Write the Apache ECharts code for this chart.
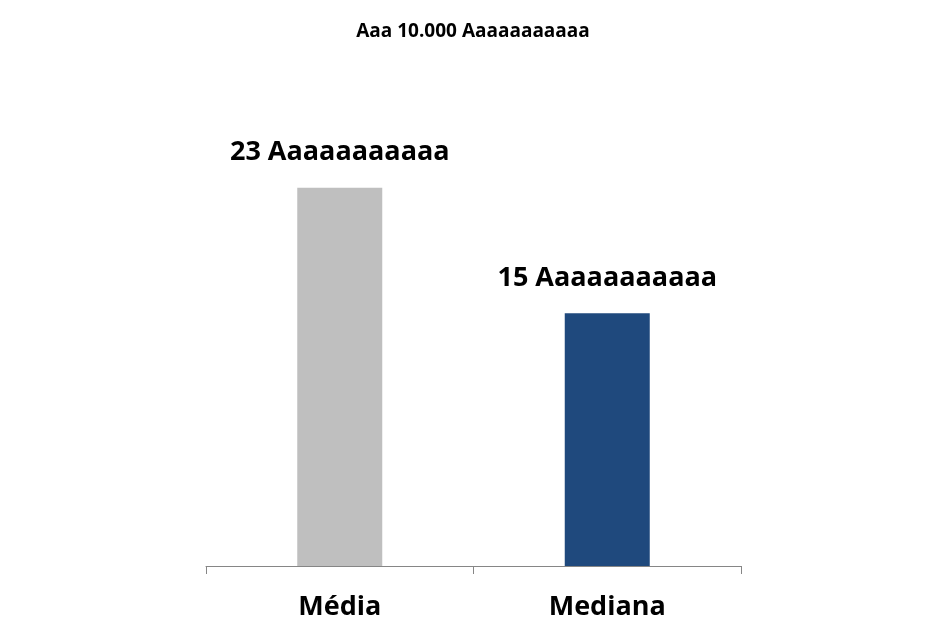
<!DOCTYPE html>
<html><head><meta charset="utf-8">
<script src="https://cdn.jsdelivr.net/npm/echarts@6/dist/echarts.min.js"></script>
<style>html,body{margin:0;padding:0;background:#fff}#c{width:946px;height:629px}</style>
</head><body><div id="c"></div>
<script>
var titleText = 'Aaa 10.000 Aaaaaaaaaaa';
var categories = ['Média', 'Mediana'];
var values = [22.6, 15.1];
var labelSuffix = ' Aaaaaaaaaaa';
var colors = ['#BFBFBF', '#1F497D'];

var FONT = 'Open Sans';
var chart = echarts.init(document.getElementById('c'));
chart.setOption({
  animation: false,
  title: { text: titleText, left: 'center', top: 17,
    textStyle: { fontFamily: FONT, fontWeight: 'bold', fontSize: 19, color: '#000' } },
  grid: { left: 206, right: 205, top: 64, bottom: 63 },
  xAxis: { type: 'category', data: categories,
    axisLine: { lineStyle: { color: '#868686', width: 1 } },
    axisTick: { show: true, length: 8, lineStyle: { color: '#868686' } },
    axisLabel: { fontFamily: FONT, fontWeight: 'bold', fontSize: 27, color: '#000', margin: 28 } },
  yAxis: { type: 'value', min: 0, max: 30, show: false, splitLine: { show: false } },
  series: [{
    type: 'bar', barWidth: 85,
    data: values.map(function (v, i) { return { value: v, itemStyle: { color: colors[i] } }; }),
    label: { show: true, position: 'top', distance: 22,
      fontFamily: FONT, fontWeight: 'bold', fontSize: 27, color: '#000',
      formatter: function (p) { return Math.round(p.value) + labelSuffix; } }
  }]
});
</script></body></html>
